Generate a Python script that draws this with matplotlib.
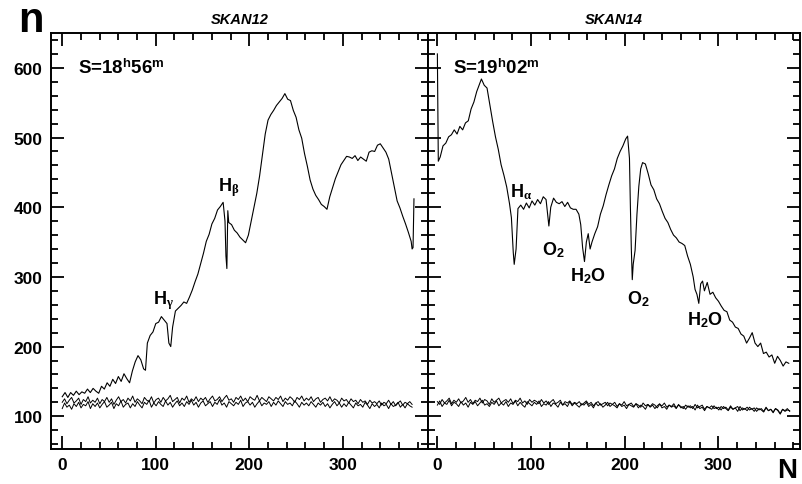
#!/usr/bin/env python
''' two scans of sky spectrum, SKAN12 and SKAN14 '''
import matplotlib
matplotlib.use('Agg')
import matplotlib.pyplot as plt
import numpy as np
from matplotlib.ticker import MultipleLocator

plt.rcParams['font.family'] = 'Liberation Sans'
plt.rcParams['font.weight'] = 'bold'
plt.rcParams['mathtext.fontset'] = 'custom'
plt.rcParams['mathtext.rm'] = 'Liberation Sans:bold'
plt.rcParams['mathtext.it'] = 'Liberation Serif'
plt.rcParams['mathtext.bf'] = 'Liberation Sans:bold'

# SKAN12 spectrum
S12_X = [0, 3, 6, 9, 12, 15, 18, 21, 24, 27, 30, 33, 36, 39, 42, 45, 48, 51, 54, 57,
         60, 63, 66, 69, 72, 75, 78, 81, 84, 87, 89, 91, 94, 97, 100, 103, 106, 109, 112, 114,
         116, 118, 121, 124, 127, 130, 133, 136, 139, 142, 145, 148, 151, 154, 157, 160, 163, 166, 169, 172,
         174, 175, 176, 177, 178, 181, 184, 187, 190, 193, 196, 199, 202, 205, 208, 211, 214, 217, 220, 223,
         226, 229, 232, 235, 238, 241, 244, 247, 250, 253, 256, 259, 262, 265, 268, 271, 274, 277, 280, 283,
         286, 289, 292, 295, 298, 301, 304, 307, 310, 313, 316, 319, 322, 325, 328, 331, 334, 337, 340, 343,
         346, 349, 352, 355, 358, 361, 364, 367, 370, 373, 374, 375, 376]
S12_Y = [128, 134, 127, 134, 130, 136, 131, 135, 133, 139, 134, 140, 136, 133, 143, 139, 148, 143, 153, 147,
         157, 150, 161, 154, 148, 165, 178, 187, 181, 168, 166, 205, 216, 221, 233, 235, 243, 238, 233, 205,
         200, 228, 251, 255, 259, 264, 262, 271, 281, 293, 304, 319, 334, 351, 361, 376, 384, 396, 401, 407,
         380, 330, 312, 395, 378, 375, 367, 363, 357, 353, 349, 360, 380, 400, 420, 445, 475, 505, 525, 533,
         539, 546, 551, 556, 563, 555, 553, 539, 529, 511, 499, 477, 459, 439, 426, 417, 411, 404, 401, 397,
         415, 428, 441, 451, 461, 467, 473, 472, 470, 474, 467, 472, 469, 466, 479, 481, 480, 489, 491, 485,
         479, 469, 449, 429, 409, 399, 387, 376, 364, 351, 340, 342, 412]

# SKAN12 background traces
B12_A = [120, 125, 118, 123, 127, 119, 122, 126, 117, 124, 121, 128, 119, 123, 120,
         126, 118, 124, 121, 127, 120, 125, 117, 123, 128, 121, 124, 119, 126, 122,
         129, 120, 125, 122, 118, 127, 123, 121, 128, 119, 124, 126, 120, 127, 122,
         125, 130, 121, 124, 127, 119, 126, 123, 129, 120, 125, 122, 128, 121, 126,
         123, 127, 120, 125, 129, 122, 124, 128, 121, 126, 130, 123, 125, 120, 127,
         124, 129, 122, 126, 121, 128, 125, 123, 130, 122, 127, 124, 121, 128, 125,
         122, 127, 124, 129, 121, 126, 123, 128, 125, 120, 127, 124, 129, 122, 126,
         123, 128, 121, 125, 127, 120, 124, 126, 122, 128, 121, 125, 123, 119, 126,
         122, 124, 119, 125, 121, 123, 118, 124, 120, 122, 117, 123, 119, 121, 118,
         122, 116, 120, 118, 123, 117, 121, 115, 119, 122, 116, 120, 118, 121, 117]
B12_B = [111, 119, 113, 116, 110, 118, 114, 120, 112, 117, 115, 121, 111, 118, 114,
         119, 112, 117, 121, 113, 116, 120, 111, 118, 115, 122, 113, 117, 119, 112,
         118, 114, 121, 116, 112, 120, 117, 123, 113, 119, 115, 121, 117, 114, 122,
         116, 120, 113, 118, 122, 115, 119, 114, 121, 117, 123, 116, 120, 113, 119,
         122, 115, 118, 121, 114, 120, 117, 124, 116, 119, 113, 121, 118, 115, 120,
         117, 123, 114, 119, 121, 116, 120, 113, 118, 122, 115, 119, 117, 121, 114,
         120, 116, 122, 118, 114, 121, 117, 119, 115, 122, 118, 113, 120, 116, 119,
         115, 121, 117, 113, 119, 116, 120, 114, 118, 112, 117, 121, 115, 119, 113,
         118, 114, 120, 116, 112, 119, 115, 117, 113, 120, 116, 111, 118, 114, 117,
         112, 119, 115, 117, 111, 118, 114, 116, 120, 113, 117, 112, 118, 115, 113]

# SKAN14 spectrum
S14_X = [0, 1, 3, 6, 9, 12, 15, 18, 21, 24, 27, 30, 33, 36, 39, 42, 45, 47, 50, 53,
         56, 59, 62, 65, 68, 71, 74, 77, 79, 81, 82, 84, 86, 89, 92, 95, 98, 101, 104, 107,
         110, 113, 116, 118, 119, 121, 124, 127, 130, 133, 136, 139, 142, 145, 148, 151, 153, 155, 157, 159,
         161, 163, 165, 168, 171, 174, 177, 180, 183, 186, 189, 192, 195, 198, 201, 203, 205, 206, 207, 208,
         209, 211, 213, 215, 217, 219, 222, 225, 228, 231, 234, 237, 240, 243, 246, 249, 252, 255, 258, 261,
         264, 267, 270, 273, 275, 277, 279, 281, 283, 285, 288, 291, 294, 297, 300, 303, 306, 309, 312, 315,
         318, 321, 324, 327, 330, 333, 336, 339, 342, 345, 348, 351, 354, 357, 360, 363, 366, 369, 372, 375]
S14_Y = [620, 466, 472, 488, 492, 501, 504, 511, 505, 516, 511, 521, 524, 541, 551, 566, 577, 584, 575, 571,
         547, 523, 501, 483, 461, 446, 429, 405, 385, 335, 318, 340, 398, 403, 397, 406, 399, 409, 403, 411,
         405, 415, 411, 385, 373, 400, 413, 407, 405, 408, 401, 407, 399, 397, 397, 390, 375, 342, 322, 350,
         362, 340, 350, 362, 372, 390, 402, 418, 432, 445, 455, 470, 480, 488, 498, 502, 470, 400, 340, 296,
         318, 338, 390, 430, 455, 464, 462, 448, 432, 425, 412, 405, 394, 384, 378, 368, 360, 356, 350, 348,
         345, 330, 318, 300, 282, 275, 262, 290, 294, 280, 292, 275, 278, 270, 265, 258, 252, 250, 238, 235,
         228, 226, 218, 215, 205, 212, 220, 205, 200, 205, 190, 192, 185, 188, 176, 186, 180, 172, 178, 176]

# SKAN14 background traces
B14_A = [121, 117, 124, 119, 122, 126, 118, 123, 120, 125, 119, 122, 127, 120, 124,
         118, 123, 121, 126, 119, 124, 122, 117, 125, 120, 123, 126, 119, 122, 124,
         120, 125, 118, 123, 121, 126, 119, 122, 117, 124, 120, 123, 121, 118, 124,
         119, 122, 117, 121, 124, 118, 120, 123, 116, 121, 119, 122, 117, 120, 118,
         121, 116, 119, 122, 117, 120, 115, 119, 121, 116, 118, 120, 115, 119, 117,
         120, 114, 118, 116, 121, 115, 117, 119, 114, 118, 116, 113, 119, 115, 117,
         114, 118, 116, 112, 117, 115, 119, 113, 116, 114, 118, 112, 116, 114, 111,
         116, 113, 115, 111, 117, 112, 114, 116, 110, 114, 112, 115, 111, 113, 109,
         114, 111, 113, 109, 115, 110, 112, 114, 108, 112, 110, 113, 109, 111, 107,
         112, 109, 111, 107, 113, 108, 110, 106, 111, 109, 104, 110, 108, 111, 107]
B14_B = [116, 122, 114, 119, 117, 123, 115, 120, 118, 114, 121, 116, 119, 113, 120,
         117, 121, 115, 119, 123, 116, 118, 114, 120, 117, 122, 115, 119, 116, 121,
         114, 119, 117, 122, 115, 120, 116, 113, 121, 118, 115, 120, 117, 122, 114,
         118, 116, 121, 114, 119, 117, 113, 120, 116, 118, 114, 121, 115, 119, 116,
         113, 118, 116, 120, 114, 117, 112, 119, 115, 118, 113, 116, 120, 114, 117,
         115, 112, 118, 114, 116, 111, 117, 115, 113, 118, 112, 116, 114, 110, 117,
         113, 116, 111, 115, 118, 112, 114, 110, 116, 113, 115, 111, 117, 112, 114,
         110, 115, 112, 114, 109, 116, 111, 113, 108, 114, 112, 110, 115, 111, 113,
         109, 114, 111, 108, 113, 110, 112, 107, 114, 109, 111, 108, 113, 110, 112,
         107, 111, 109, 106, 112, 108, 110, 105, 111, 108, 103, 110, 107, 109, 108]

TITLES = ['SKAN12', 'SKAN14']
TIMES = [r'S=18$^{\mathrm{h}}$56$^{\mathrm{m}}$', r'S=19$^{\mathrm{h}}$02$^{\mathrm{m}}$']
LABELS12 = [(97, 268, r'H$_{\gamma}$'), (167, 429, r'H$_{\beta}$')]
LABELS14 = [(78, 423, r'H$_{\alpha}$'), (112, 340, r'O$_{\mathrm{2}}$'), (142, 303, r'H$_{\mathrm{2}}$O'),
            (202, 270, r'O$_{\mathrm{2}}$'), (266, 239, r'H$_{\mathrm{2}}$O')]


def style_axes(ax, xlim, show_ylabels):
    ax.set_xlim(*xlim)
    ax.set_ylim(53, 650)
    ax.xaxis.set_major_locator(MultipleLocator(100))
    ax.xaxis.set_minor_locator(MultipleLocator(20))
    ax.yaxis.set_major_locator(MultipleLocator(100))
    ax.yaxis.set_minor_locator(MultipleLocator(20))
    ax.tick_params(which='both', direction='in', top=True, right=True, width=1.3,
                   labelsize=12.5, pad=6, labelleft=show_ylabels)
    ax.tick_params(which='major', length=9.5)
    ax.tick_params(which='minor', length=5)
    for sp in ax.spines.values():
        sp.set_linewidth(1.4)
    for lab in ax.get_xticklabels() + ax.get_yticklabels():
        lab.set_fontweight('bold')


fig = plt.figure(figsize=(8.02, 4.85), dpi=100)
ax1 = fig.add_axes([51 / 802, 35 / 485, 377 / 802, 416 / 485])
ax2 = fig.add_axes([428 / 802, 35 / 485, 372 / 802, 416 / 485])

ax1.plot(S12_X, S12_Y, color='black', lw=0.8)
ax1.plot(np.linspace(0, 374, len(B12_A)), B12_A, color='black', lw=0.7)
ax1.plot(np.linspace(0, 374, len(B12_B)), B12_B, color='black', lw=0.7)
style_axes(ax1, (-12, 391), True)

ax2.plot(S14_X, S14_Y, color='black', lw=0.8)
ax2.plot(np.linspace(0, 376, len(B14_A)), B14_A, color='black', lw=0.7)
ax2.plot(np.linspace(0, 376, len(B14_B)), B14_B, color='black', lw=0.7)
style_axes(ax2, (-10, 387), False)

for ax, title, t in zip([ax1, ax2], TITLES, TIMES):
    ax.set_title(title, fontsize=10.5, fontweight='bold', style='italic', pad=7)
    ax.text(17, 601, t, fontsize=13.5, va='center', ha='left')

for x, y, s in LABELS12:
    ax1.text(x, y, s, fontsize=13, va='center', ha='left')
for x, y, s in LABELS14:
    ax2.text(x, y, s, fontsize=13, va='center', ha='left')

fig.text(18 / 802, 1 - 32 / 485, 'n', fontsize=30, fontweight='bold', va='baseline')
fig.text(777 / 802, 1 - 478 / 485, 'N', fontsize=20, fontweight='bold', va='baseline')

plt.savefig('out.png', dpi=100)
